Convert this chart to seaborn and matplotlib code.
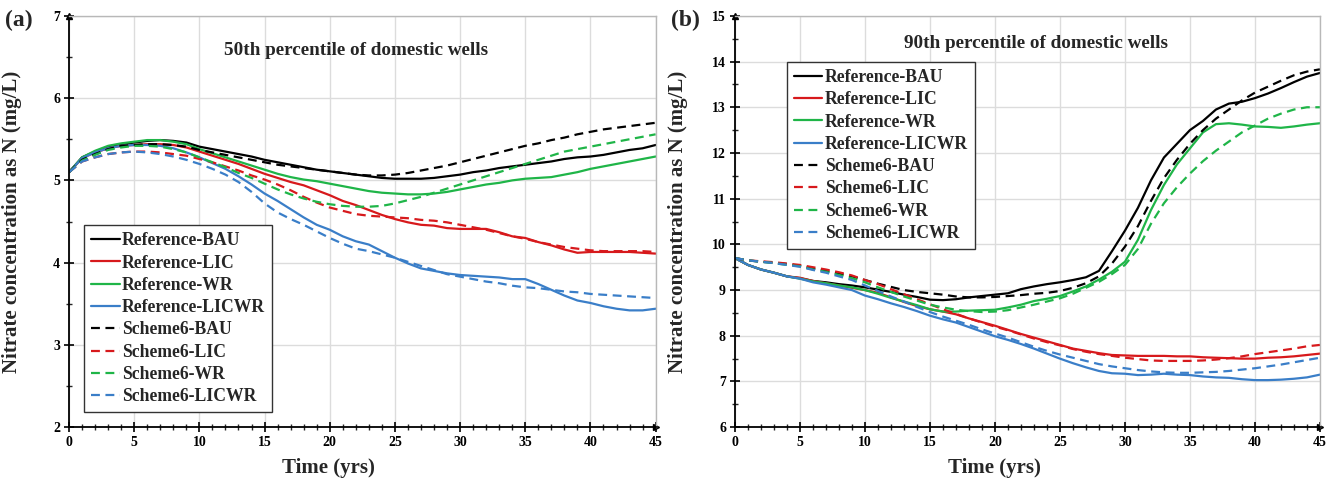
import numpy as np
import pandas as pd
import matplotlib
matplotlib.use("Agg")
import matplotlib.pyplot as plt
import seaborn as sns
from matplotlib.ticker import MultipleLocator

years = list(range(0, 46))

# Panel (a): 50th percentile
a_ref_bau = [5.1, 5.28, 5.35, 5.41, 5.44, 5.46, 5.48, 5.49, 5.48, 5.46, 5.41, 5.38, 5.35, 5.32, 5.29, 5.25, 5.22, 5.19, 5.16, 5.13,
             5.11, 5.09, 5.07, 5.05, 5.03, 5.02, 5.02, 5.02, 5.03, 5.05, 5.07, 5.10, 5.12, 5.15, 5.17, 5.19, 5.21, 5.23, 5.26, 5.28,
             5.29, 5.31, 5.34, 5.37, 5.39, 5.43]
a_ref_lic = [5.1, 5.27, 5.34, 5.39, 5.42, 5.43, 5.44, 5.44, 5.43, 5.40, 5.35, 5.30, 5.25, 5.20, 5.14, 5.08, 5.03, 4.98, 4.94, 4.88,
             4.82, 4.75, 4.70, 4.64, 4.58, 4.53, 4.49, 4.46, 4.45, 4.42, 4.41, 4.41, 4.41, 4.37, 4.32, 4.30, 4.25, 4.21, 4.16, 4.12,
             4.13, 4.13, 4.13, 4.13, 4.12, 4.11]
a_ref_wr = [5.1, 5.28, 5.36, 5.42, 5.45, 5.47, 5.49, 5.49, 5.47, 5.44, 5.38, 5.33, 5.28, 5.23, 5.18, 5.13, 5.08, 5.04, 5.01, 4.99,
            4.96, 4.93, 4.90, 4.87, 4.85, 4.84, 4.83, 4.83, 4.84, 4.86, 4.89, 4.92, 4.95, 4.97, 5.00, 5.02, 5.03, 5.04, 5.07, 5.10,
            5.14, 5.17, 5.20, 5.23, 5.26, 5.29]
a_ref_licwr = [5.1, 5.27, 5.34, 5.39, 5.42, 5.43, 5.43, 5.42, 5.39, 5.34, 5.28, 5.21, 5.14, 5.05, 4.95, 4.84, 4.75, 4.65, 4.55, 4.46,
               4.40, 4.32, 4.26, 4.22, 4.14, 4.06, 3.99, 3.93, 3.90, 3.87, 3.85, 3.84, 3.83, 3.82, 3.80, 3.80, 3.74, 3.67, 3.60, 3.54,
               3.51, 3.47, 3.44, 3.42, 3.42, 3.44]
a_s6_bau = [5.1, 5.25, 5.32, 5.38, 5.42, 5.43, 5.44, 5.44, 5.43, 5.41, 5.37, 5.34, 5.31, 5.28, 5.25, 5.22, 5.19, 5.17, 5.15, 5.13,
            5.11, 5.09, 5.07, 5.06, 5.06, 5.07, 5.09, 5.12, 5.15, 5.18, 5.22, 5.26, 5.30, 5.34, 5.38, 5.42, 5.45, 5.49, 5.52, 5.56,
            5.59, 5.62, 5.64, 5.66, 5.68, 5.70]
a_s6_lic = [5.1, 5.23, 5.28, 5.32, 5.34, 5.35, 5.35, 5.34, 5.32, 5.30, 5.26, 5.22, 5.17, 5.12, 5.06, 5.01, 4.95, 4.88, 4.80, 4.73,
            4.67, 4.63, 4.59, 4.57, 4.56, 4.55, 4.54, 4.52, 4.51, 4.49, 4.46, 4.43, 4.40, 4.36, 4.32, 4.29, 4.25, 4.22, 4.19, 4.17,
            4.15, 4.14, 4.14, 4.14, 4.14, 4.13]
a_s6_wr = [5.1, 5.24, 5.31, 5.37, 5.40, 5.42, 5.42, 5.41, 5.38, 5.34, 5.28, 5.22, 5.16, 5.09, 5.03, 4.96, 4.89, 4.83, 4.78, 4.74,
           4.71, 4.69, 4.68, 4.68, 4.69, 4.72, 4.76, 4.80, 4.85, 4.90, 4.95, 5.00, 5.05, 5.10, 5.15, 5.20, 5.25, 5.30, 5.35, 5.38,
           5.41, 5.44, 5.47, 5.50, 5.53, 5.56]
a_s6_licwr = [5.1, 5.23, 5.28, 5.32, 5.34, 5.35, 5.34, 5.32, 5.29, 5.25, 5.20, 5.14, 5.07, 4.98, 4.86, 4.72, 4.61, 4.53, 4.46, 4.38,
              4.30, 4.23, 4.17, 4.14, 4.10, 4.06, 4.01, 3.96, 3.91, 3.86, 3.83, 3.80, 3.77, 3.75, 3.72, 3.70, 3.69, 3.67, 3.65, 3.64,
              3.62, 3.61, 3.60, 3.59, 3.58, 3.57]

# Panel (b): 90th percentile
b_ref_bau = [9.7, 9.55, 9.45, 9.38, 9.30, 9.26, 9.20, 9.17, 9.13, 9.10, 9.06, 9.01, 8.96, 8.90, 8.85, 8.79, 8.78, 8.80, 8.84, 8.87,
             8.90, 8.93, 9.02, 9.08, 9.13, 9.17, 9.22, 9.28, 9.42, 9.85, 10.3, 10.8, 11.4, 11.9, 12.2, 12.5, 12.7, 12.95, 13.08, 13.12,
             13.2, 13.3, 13.42, 13.55, 13.67, 13.75]
b_ref_lic = [9.7, 9.55, 9.45, 9.38, 9.30, 9.27, 9.20, 9.15, 9.10, 9.05, 9.00, 8.94, 8.84, 8.74, 8.65, 8.58, 8.53, 8.47, 8.38, 8.30,
             8.22, 8.13, 8.04, 7.96, 7.88, 7.80, 7.72, 7.67, 7.62, 7.58, 7.57, 7.56, 7.56, 7.56, 7.55, 7.55, 7.53, 7.52, 7.51, 7.50,
             7.50, 7.52, 7.53, 7.55, 7.58, 7.61]
b_ref_wr = [9.7, 9.55, 9.45, 9.38, 9.30, 9.25, 9.19, 9.15, 9.10, 9.06, 9.00, 8.92, 8.83, 8.75, 8.67, 8.58, 8.53, 8.53, 8.55, 8.56,
            8.57, 8.62, 8.68, 8.76, 8.81, 8.87, 8.97, 9.08, 9.23, 9.40, 9.62, 10.1, 10.75, 11.3, 11.75, 12.1, 12.45, 12.63, 12.65, 12.62,
            12.58, 12.57, 12.55, 12.58, 12.62, 12.65]
b_ref_licwr = [9.7, 9.55, 9.45, 9.38, 9.30, 9.25, 9.17, 9.12, 9.06, 9.00, 8.88, 8.80, 8.71, 8.63, 8.54, 8.44, 8.36, 8.29, 8.19, 8.09,
               7.99, 7.91, 7.82, 7.72, 7.61, 7.50, 7.40, 7.31, 7.23, 7.18, 7.17, 7.14, 7.15, 7.17, 7.15, 7.14, 7.11, 7.09, 7.08, 7.05,
               7.03, 7.03, 7.04, 7.06, 7.09, 7.15]
b_s6_bau = [9.7, 9.65, 9.62, 9.60, 9.57, 9.53, 9.47, 9.42, 9.36, 9.30, 9.22, 9.14, 9.07, 9.00, 8.96, 8.93, 8.90, 8.86, 8.84, 8.84,
            8.85, 8.87, 8.89, 8.92, 8.94, 8.98, 9.05, 9.15, 9.30, 9.58, 9.95, 10.4, 10.95, 11.45, 11.85, 12.2, 12.5, 12.75, 12.95, 13.15,
            13.32, 13.45, 13.58, 13.7, 13.78, 13.83]
b_s6_lic = [9.7, 9.65, 9.63, 9.61, 9.58, 9.55, 9.50, 9.45, 9.39, 9.32, 9.22, 9.13, 9.02, 8.91, 8.80, 8.69, 8.58, 8.48, 8.38, 8.29,
            8.20, 8.12, 8.03, 7.94, 7.86, 7.79, 7.71, 7.65, 7.60, 7.56, 7.52, 7.49, 7.46, 7.45, 7.45, 7.45, 7.46, 7.48, 7.51, 7.55,
            7.60, 7.64, 7.68, 7.72, 7.77, 7.80]
b_s6_wr = [9.7, 9.65, 9.62, 9.59, 9.55, 9.52, 9.45, 9.40, 9.33, 9.26, 9.17, 9.06, 8.96, 8.86, 8.77, 8.68, 8.62, 8.57, 8.54, 8.52,
           8.53, 8.56, 8.62, 8.68, 8.75, 8.82, 8.92, 9.05, 9.18, 9.35, 9.55, 9.9, 10.45, 10.9, 11.25, 11.55, 11.82, 12.05, 12.25, 12.45,
           12.6, 12.75, 12.86, 12.95, 13.0, 13.0]
b_s6_licwr = [9.7, 9.65, 9.62, 9.59, 9.55, 9.51, 9.44, 9.38, 9.30, 9.22, 9.10, 8.98, 8.86, 8.75, 8.63, 8.52, 8.42, 8.33, 8.24, 8.14,
              8.05, 7.96, 7.86, 7.76, 7.67, 7.59, 7.52, 7.45, 7.38, 7.33, 7.29, 7.25, 7.22, 7.20, 7.19, 7.19, 7.20, 7.21, 7.23, 7.26,
              7.29, 7.33, 7.37, 7.42, 7.47, 7.52]

series_names = ["Reference-BAU", "Reference-LIC", "Reference-WR", "Reference-LICWR",
                "Scheme6-BAU", "Scheme6-LIC", "Scheme6-WR", "Scheme6-LICWR"]
panel_a = [a_ref_bau, a_ref_lic, a_ref_wr, a_ref_licwr, a_s6_bau, a_s6_lic, a_s6_wr, a_s6_licwr]
panel_b = [b_ref_bau, b_ref_lic, b_ref_wr, b_ref_licwr, b_s6_bau, b_s6_lic, b_s6_wr, b_s6_licwr]

colors = ["#000000", "#d7191c", "#1fb548", "#3a7ec8"] * 2
dashed = [False] * 4 + [True] * 4

sns.set_theme(style="white")
plt.rcParams['font.family'] = ['Liberation Serif', 'DejaVu Serif']
plt.rcParams['font.weight'] = 'bold'

fig = plt.figure(figsize=(13.38, 4.8), dpi=100)
ax_a = fig.add_axes([0.0516, 0.110, 0.4384, 0.857])
ax_b = fig.add_axes([0.5493, 0.110, 0.4372, 0.857])


def draw(ax, data, ylim, title, title_xy, legend_loc):
    for name, vals, c, d in zip(series_names, data, colors, dashed):
        df = pd.DataFrame({"Time": years, "Value": vals})
        sns.lineplot(data=df, x="Time", y="Value", ax=ax, color=c, lw=1.6,
                     linestyle=(0, (4, 2.5)) if d else "-", label=name)
    ax.set_xlim(0, 45)
    ax.set_ylim(*ylim)
    ax.xaxis.set_major_locator(MultipleLocator(5))
    ax.xaxis.set_minor_locator(MultipleLocator(1))
    ax.yaxis.set_major_locator(MultipleLocator(1))
    ax.yaxis.set_minor_locator(MultipleLocator(0.5))
    ax.grid(True, which="major", color="#dcdcdc", lw=1.0)
    ax.set_axisbelow(True)
    for s in ["top", "right"]:
        ax.spines[s].set_color("#b8b8b8")
        ax.spines[s].set_linewidth(1.0)
    for s in ["left", "bottom"]:
        ax.spines[s].set_color("black")
        ax.spines[s].set_linewidth(1.3)
    ax.tick_params(axis="both", which="major", direction="inout", length=7, width=1.2,
                   labelsize=10, pad=3, bottom=True, left=True, colors="black")
    ax.tick_params(axis="both", which="minor", direction="inout", length=4, width=1.0,
                   bottom=True, left=True)
    for lab in ax.get_xticklabels() + ax.get_yticklabels():
        lab.set_fontweight("bold")
    # small arrowheads at the axis ends
    ax.plot([0], [1], marker="^", color="black", markersize=4, transform=ax.transAxes, clip_on=False)
    ax.plot([1], [0], marker=">", color="black", markersize=4, transform=ax.transAxes, clip_on=False)
    ax.set_xlabel("Time (yrs)", fontsize=15, fontweight="bold")
    ax.xaxis.set_label_coords(0.443, -0.075)
    ax.set_ylabel("Nitrate concentration as N (mg/L)", fontsize=15, fontweight="bold")
    ax.yaxis.set_label_coords(-0.08, 0.5)
    ax.text(title_xy[0], title_xy[1], title, transform=ax.transAxes, ha="center", va="center",
            fontsize=13.8, fontweight="bold")
    leg = ax.legend(loc=legend_loc[0], bbox_to_anchor=legend_loc[1], frameon=True, fancybox=False,
                    edgecolor="#333333", framealpha=1, handlelength=1.6, handletextpad=0.15,
                    labelspacing=0.3, borderpad=0.4, borderaxespad=0,
                    prop={"weight": "bold", "size": 12.7})
    leg.get_frame().set_linewidth(1.0)


draw(ax_a, panel_a, (2, 7), "50th percentile of domestic wells", (0.49, 0.915),
     ("lower left", (0.026, 0.036)))
draw(ax_b, panel_b, (6, 15), "90th percentile of domestic wells", (0.515, 0.932),
     ("upper left", (0.089, 0.888)))

fig.text(5 / 1338, 1 - 20 / 480, "(a)", ha="left", va="center", fontsize=17, fontweight="bold")
fig.text(671 / 1338, 1 - 20 / 480, "(b)", ha="left", va="center", fontsize=17, fontweight="bold")

fig.savefig("out.png", dpi=100)
